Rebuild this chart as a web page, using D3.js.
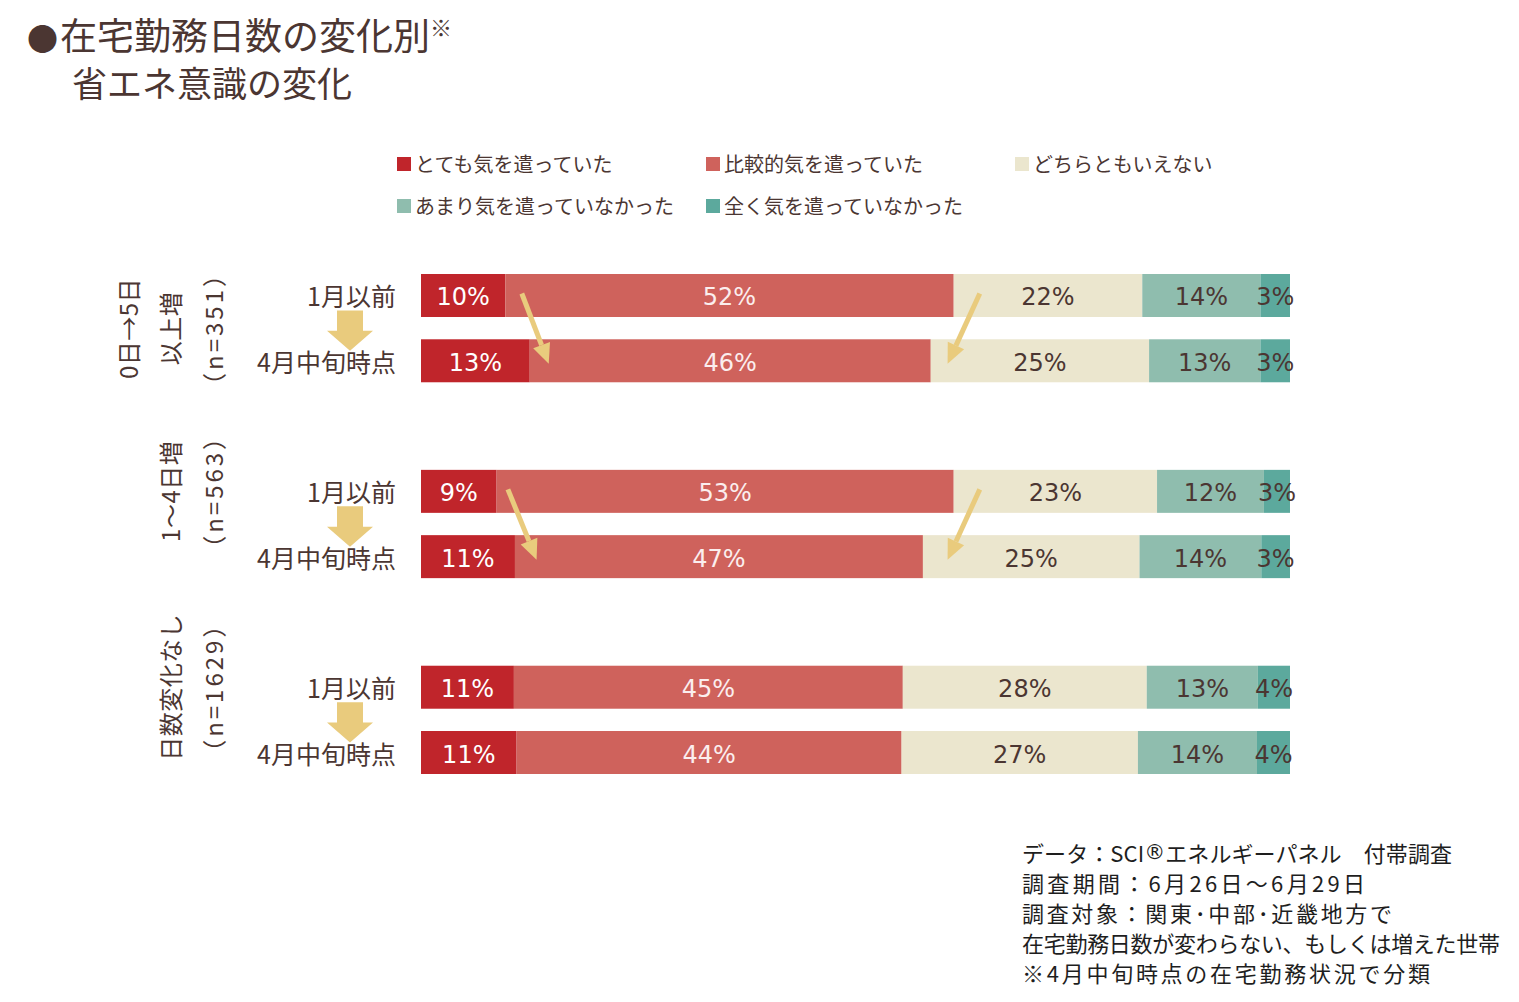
<!DOCTYPE html>
<html>
<head>
<meta charset="utf-8">
<title>在宅勤務日数の変化別 省エネ意識の変化</title>
<script src="https://d3js.org/d3.v7.min.js"></script>
<style>
body { margin: 0; background: #fff; }
text { font-family: "Noto Sans CJK JP", "Noto Sans", sans-serif; }
.pct { font-family: "DejaVu Sans", Verdana, sans-serif; }
</style>
</head>
<body>
<svg width="1519" height="1002"></svg>
<script>
// Data
var categories = ["とても気を遣っていた", "比較的気を遣っていた", "どちらともいえない", "あまり気を遣っていなかった", "全く気を遣っていなかった"];
var colors = ["#c0252b", "#cf625c", "#ebe6ce", "#8fbdae", "#5ca99d"];
var textColors = ["#ffffff", "#fbeeee", "#4b3632", "#4b3632", "#4b3632"];
var periods = ["1月以前", "4月中旬時点"];
var groupLabels = [["0日→5日", "以上増", "（n=351）"], ["1～4日増", "（n=563）"], ["日数変化なし", "（n=1629）"]];
// shares per row (group x period)
var group1 = [[9.7, 51.6, 21.7, 13.6, 3.4], [12.5, 46.1, 25.1, 12.8, 3.4]];
var group2 = [[8.7, 52.6, 23.4, 12.3, 3.0], [10.8, 46.9, 24.9, 14.0, 3.3]];
var group3 = [[10.7, 44.8, 28.1, 12.8, 3.7], [11.0, 44.3, 27.2, 13.7, 3.8]];
// arrows showing the shift of the boundaries (in % of the bar)
var shiftArrows = [
  {group: 0, from: 11.6, to: 14.7},
  {group: 0, from: 64.3, to: 60.6},
  {group: 1, from: 10.0, to: 13.3},
  {group: 1, from: 64.3, to: 60.6}
];
var notes = [["データ：SCI", "®", "エネルギーパネル　付帯調査"], ["調査期間：6月26日～6月29日"], ["調査対象：関東･中部･近畿地方で"], ["在宅勤務日数が変わらない、もしくは増えた世帯"], ["※4月中旬時点の在宅勤務状況で分類"]];
// rendered widths of the note lines in the original
var noteWidths = [430, 343, 370, 478, 408];

var groups = [group1, group2, group3];
var brown = "#4b3632";
var svg = d3.select("svg");

// Build rows for stacking
var rows = [];
groups.forEach(function(g, gi) {
  g.forEach(function(vals, pi) {
    var r = {key: "g" + gi + "r" + pi, group: gi, period: pi};
    categories.forEach(function(c, ci) { r[c] = vals[ci]; });
    rows.push(r);
  });
});
var slots = ["g0r0", "g0r1", "gap0", "g1r0", "g1r1", "gap1", "g2r0", "g2r1"];

// Scales
var x = d3.scaleLinear().domain([0, 1]).range([421, 1290]);
var y = d3.scaleBand().domain(slots).range([274, 774]).paddingInner(0.3415).paddingOuter(0);
var color = d3.scaleOrdinal().domain(categories).range(colors);
var bh = y.bandwidth();

var series = d3.stack().keys(categories).offset(d3.stackOffsetExpand)(rows);

// Bars
var layer = svg.append("g").selectAll("g")
  .data(series)
  .enter().append("g")
  .attr("fill", function(d) { return color(d.key); });

layer.selectAll("rect")
  .data(function(d) { return d; })
  .enter().append("rect")
  .attr("x", function(d) { return x(d[0]); })
  .attr("y", function(d) { return y(d.data.key); })
  .attr("width", function(d) { return x(d[1]) - x(d[0]); })
  .attr("height", bh);

// Percentage labels
layer.each(function(s, si) {
  d3.select(this).selectAll("text")
    .data(s)
    .enter().append("text")
    .attr("class", "pct")
    .attr("x", function(d) { return (x(d[0]) + x(d[1])) / 2; })
    .attr("y", function(d) { return y(d.data.key) + bh / 2 + 2; })
    .attr("text-anchor", "middle")
    .attr("dominant-baseline", "central")
    .attr("font-size", 24)
    .attr("fill", textColors[si])
    .text(function(d) { return Math.round(d.data[s.key]) + "%"; });
});

// Row labels
svg.append("g").selectAll("text")
  .data(rows)
  .enter().append("text")
  .attr("x", 396)
  .attr("y", function(d) { return y(d.key) + bh / 2; })
  .attr("text-anchor", "end")
  .attr("dominant-baseline", "central")
  .attr("font-size", 25)
  .attr("fill", brown)
  .text(function(d) { return periods[d.period]; });

// Block arrows between 1月以前 and 4月中旬時点
svg.append("g").selectAll("path")
  .data([0, 1, 2])
  .enter().append("path")
  .attr("fill", "#e9cb7d")
  .attr("d", function(g) {
    var top = y("g" + g + "r0") + bh / 2 + 15;
    var tip = y("g" + g + "r1") + bh / 2 - 10;
    var cx = 350, sw = 13, hw = 23, hl = 20;
    return "M" + (cx - sw) + "," + top + "H" + (cx + sw) + "V" + (tip - hl) +
      "H" + (cx + hw) + "L" + cx + "," + tip + "L" + (cx - hw) + "," + (tip - hl) +
      "H" + (cx - sw) + "Z";
  });

// Group labels (rotated)
var labelCenters = [y("g0r0") + bh / 2 + 33, y("g1r0") + bh / 2, y("g2r0") + bh / 2];
groupLabels.forEach(function(lines, gi) {
  var n = lines.length;
  lines.forEach(function(t, li) {
    var cx = 212 - (n - 1 - li) * 42.5;
    var isN = t.indexOf("n=") >= 0;
    svg.append("text")
      .attr("transform", "translate(" + cx + "," + labelCenters[gi] + ")rotate(-90)")
      .attr("text-anchor", "middle")
      .attr("dominant-baseline", "central")
      .attr("font-size", 24)
      .attr("letter-spacing", isN ? 3 : 0.5)
      .attr("fill", brown)
      .text(t);
  });
});

// Shift arrows
var arrowG = svg.append("g");
shiftArrows.forEach(function(a) {
  var x0 = x(a.from / 100), y0 = y("g" + a.group + "r0") + bh / 2 - 2;
  var x1 = x(a.to / 100), y1 = y("g" + a.group + "r1") + bh / 2 + 3;
  var ang = Math.atan2(y1 - y0, x1 - x0);
  var hl = 20, hw = 9;
  var bx = x1 - hl * Math.cos(ang), by = y1 - hl * Math.sin(ang);
  var px = -Math.sin(ang), py = Math.cos(ang);
  arrowG.append("line")
    .attr("x1", x0).attr("y1", y0)
    .attr("x2", bx).attr("y2", by)
    .attr("stroke", "#e9cb7d")
    .attr("stroke-width", 5);
  arrowG.append("path")
    .attr("fill", "#e9cb7d")
    .attr("d", "M" + x1 + "," + y1 + "L" + (bx + px * hw) + "," + (by + py * hw) +
      "L" + (bx - px * hw) + "," + (by - py * hw) + "Z");
});

// Legend
var legend = svg.append("g").selectAll("g")
  .data(categories)
  .enter().append("g")
  .attr("transform", function(d, i) {
    return "translate(" + (397 + (i % 3) * 309) + "," + (164 + Math.floor(i / 3) * 42) + ")";
  });
legend.append("rect")
  .attr("x", 0).attr("y", -7)
  .attr("width", 14).attr("height", 14)
  .attr("fill", function(d) { return color(d); });
legend.append("text")
  .attr("x", 18)
  .attr("y", -1)
  .attr("dominant-baseline", "central")
  .attr("font-size", 20)
  .attr("fill", brown)
  .text(function(d) { return d; });

// Title
var title = svg.append("text")
  .attr("x", 27).attr("y", 50)
  .attr("font-size", 37)
  .attr("fill", brown);
title.append("tspan").attr("font-size", 31).text("●");
title.append("tspan").attr("dx", 2).text("在宅勤務日数の変化別");
title.append("tspan").attr("font-size", 22).attr("dy", -14).text("※");
svg.append("text")
  .attr("x", 72).attr("y", 97)
  .attr("font-size", 35)
  .attr("fill", brown)
  .text("省エネ意識の変化");

// Notes
var noteText = svg.append("g").selectAll("text")
  .data(notes)
  .enter().append("text")
  .attr("x", 1022)
  .attr("y", function(d, i) { return 852 + i * 30; })
  .attr("dominant-baseline", "central")
  .attr("font-size", 22)
  .attr("fill", "#1e1e1e")
  .attr("textLength", function(d, i) { return noteWidths[i]; })
  .attr("lengthAdjust", "spacing");
noteText.selectAll("tspan")
  .data(function(d) { return d; })
  .enter().append("tspan")
  .attr("font-family", function(d) { return d === "®" ? "DejaVu Sans" : null; })
  .attr("font-size", function(d) { return d === "®" ? 21 : null; })
  .text(function(d) { return d; });
</script>
</body>
</html>
